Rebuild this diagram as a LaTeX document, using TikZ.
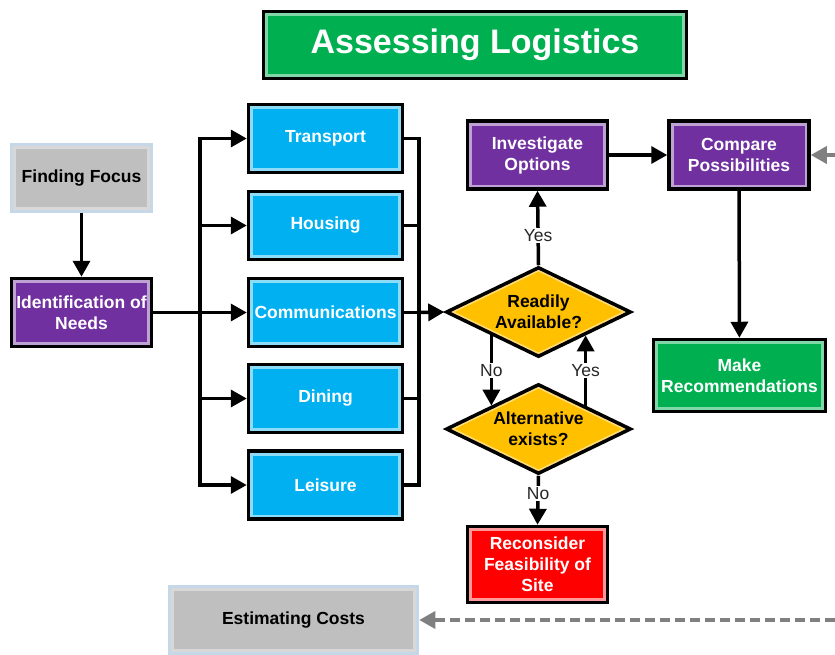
\documentclass[tikz,border=0pt]{standalone}
\usepackage{fontspec}
\setmainfont{Liberation Sans}
\usetikzlibrary{arrows.meta,shapes.geometric}

\definecolor{titlegreen}{HTML}{00B050}
\definecolor{needpurple}{HTML}{7030A0}
\definecolor{areablue}{HTML}{00B0F0}
\definecolor{checkgold}{HTML}{FFC000}
\definecolor{stopred}{HTML}{FF0000}
\definecolor{stepgray}{HTML}{BFBFBF}
\definecolor{stepedge}{HTML}{C6D7E8}
\definecolor{linkgray}{HTML}{808080}

\newcommand{\boxfont}{\fontsize{17.5}{21}\selectfont\bfseries}

\begin{document}
\begin{tikzpicture}[x=1pt,y=-1pt,
  inframe/.style={path picture={\draw[#1,line width=9pt] (path picture bounding box.south west) rectangle (path picture bounding box.north east);}},
  inglow/.style={path picture={\draw[#1,line width=7pt] (path picture bounding box.north) -- (path picture bounding box.east) -- (path picture bounding box.south) -- (path picture bounding box.west) -- cycle;}},
  box/.style={rectangle,draw=black,line width=3.5pt,align=center,inner sep=2pt,text=white,font=\boxfont},
  purplebox/.style={box,fill=needpurple,inframe=needpurple!45!white,minimum width=140pt,minimum height=68pt},
  bluebox/.style={box,fill=areablue,inframe=areablue!45!white,minimum width=154pt,minimum height=68pt},
  greenbox/.style={box,fill=titlegreen,inframe=titlegreen!50!white},
  redbox/.style={box,fill=stopred,inframe=stopred!40!white,minimum width=140pt,minimum height=76pt},
  graybox/.style={box,draw=stepedge,fill=stepgray,inframe=stepgray!60!white,text=black},
  check/.style={diamond,aspect=2.03,draw=black,line width=3.5pt,fill=checkgold,inglow=checkgold!55!white,inner sep=0pt,minimum width=185pt,minimum height=90pt,align=center,font=\boxfont},
  arr/.style={line width=3.5pt,-{Triangle[length=16pt,width=17pt]}},
  link/.style={line width=3.5pt},
  dasharr/.style={line width=3.5pt,linkgray,dash pattern=on 10pt off 5pt,-{Triangle[length=16pt,width=17pt]}},
  lab/.style={fill=white,inner sep=1pt,text=black!85,font=\fontsize{17.5}{19}\selectfont}
]
\useasboundingbox (0,0) rectangle (835,654);

% title
\node[greenbox,minimum width=423pt,minimum height=67pt,font=\fontsize{34}{40}\selectfont\bfseries] (title) at (475,45) {Assessing Logistics};

% left column
\node[graybox,minimum width=140pt,minimum height=67pt] (focus) at (81.5,178) {Finding Focus};
\node[purplebox] (needs) at (81.5,312.5) {Identification of\\Needs};

% areas
\node[bluebox] (trans) at (325.5,138.5) {Transport};
\node[bluebox] (hous)  at (325.5,225.5) {Housing};
\node[bluebox] (comm)  at (325.5,312.5) {Communications};
\node[bluebox] (din)   at (325.5,398.5) {Dining};
\node[bluebox] (leis)  at (325.5,485)   {Leisure};

% checks
\node[check] (ready) at (538.5,312) {Readily\\Available?};
\node[check] (alt)   at (538.5,429) {Alternative\\exists?};

\node[purplebox] (inv)   at (537.5,155)   {Investigate\\Options};
\node[purplebox] (comp)  at (739,155)     {Compare\\Possibilities};
\node[greenbox,minimum width=172pt,minimum height=72pt] (recs) at (739.5,375.5) {Make\\Recommendations};
\node[redbox] (recon) at (537.5,564.5) {Reconsider\\Feasibility of\\Site};
\node[graybox,minimum width=248pt,minimum height=67pt] (costs) at (293.5,620) {Estimating Costs};

\coordinate (lbus) at (200,0);
\coordinate (rbus) at (419,0);
\coordinate (costsin) at (835,620);
\coordinate (compin) at (835,155);

\draw[arr] (focus) -- (needs);
\draw[arr] (needs) -- (comm);
\draw[link,line cap=rect] (lbus |- trans) -- (lbus |- leis);
\foreach \n in {trans,hous,din,leis}
  \draw[arr] (lbus |- \n) -- (\n);
\draw[link] (trans) -| (rbus |- leis) -- (leis);
\foreach \n in {hous,comm,din}
  \draw[link] (\n) -- (rbus |- \n);
\draw[arr] (rbus |- comm) -- (ready.west);

\draw[arr] (ready.north) -- node[lab,pos=0.4]{Yes} (inv.south);
\draw[arr] (ready.south west) -- node[lab]{No} (alt.north west);
\draw[arr] (alt.north east) -- node[lab]{Yes} (ready.south east);
\draw[arr] (alt.south) -- node[lab,pos=0.36]{No} (recon.north);
\draw[arr] (inv) -- (comp);
\draw[arr] (comp) -- (recs);

% links to other steps
\draw[dasharr] (costsin) -- (costs);
\draw[dasharr] (compin) -- (comp);
\end{tikzpicture}
\end{document}
